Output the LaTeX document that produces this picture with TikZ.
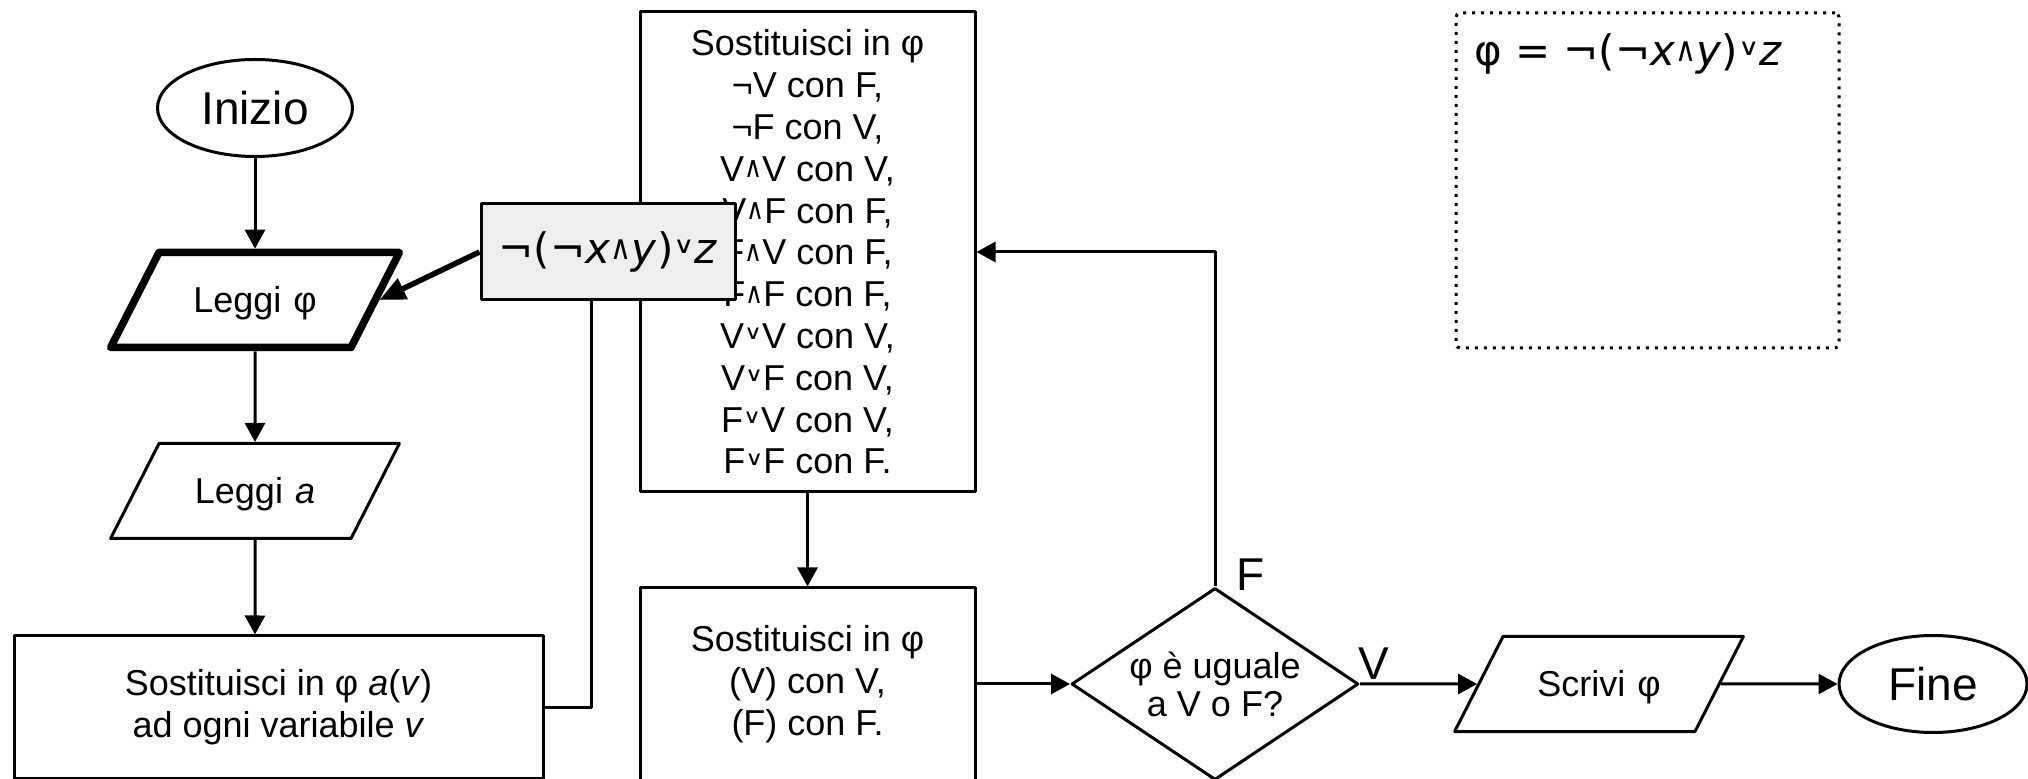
\documentclass[tikz,border=0pt]{standalone}
\usepackage{graphicx}
\usepackage{fontspec}
\setmainfont{Liberation Sans}
\newfontfamily\symf{DejaVu Sans}
\usetikzlibrary{shapes.geometric,arrows.meta}
\definecolor{boxgrey}{HTML}{EEEEEE}
\newcommand{\andsym}{\raisebox{.1em}{\resizebox{.5em}{.47em}{\symf ∧}}}
\newcommand{\orsym}{\raisebox{.24em}{\resizebox{.5em}{.32em}{\symf ∨}}}
\tikzset{
  txt/.style={font=\fontsize{18pt}{20.9pt}\selectfont, align=center},
  bigtxt/.style={font=\fontsize{23pt}{27pt}\selectfont},
  formtxt/.style={font=\symf\fontsize{21pt}{25pt}\selectfont},
  term/.style={draw, ellipse, bigtxt, inner sep=0pt, minimum height=48.5pt},
  io/.style={draw, trapezium, trapezium left angle=63, trapezium right angle=117,
    inner sep=0pt, txt, text width=96pt, text height=30.25pt, text depth=17.25pt},
  proc/.style={draw, rectangle, inner sep=0pt, txt},
  arr/.style={-{Triangle[length=9.5pt,width=10pt]}},
}
\begin{document}
\begin{tikzpicture}[x=0.5pt, y=-0.5pt, line width=1.5pt, line join=round]
            \useasboundingbox (0,0) rectangle (2028,779);
            \clip (0,0) rectangle (2028,779);
            % left column
            \node[term, minimum width=97.5pt] (start) at (255,108) {Inizio};
            \node[io, line width=3.75pt] (readphi) at (255,300) {Leggi φ};
            \node[io] (reada) at (255,491) {Leggi \textit{a}};
            \node[proc, minimum width=264.5pt, minimum height=71pt] (subst) at (278.5,707)
                {Sostituisci in φ \textit{a}(\textit{v})\\ ad ogni variabile \textit{v}};
            % rules
            \node[proc, minimum width=167.5pt, minimum height=240pt] (rules) at (807.5,252)
                {Sostituisci in φ\\ ¬V con F,\\ ¬F con V,\\ V\andsym V con V,\\ V\andsym F con F,\\
                 F\andsym V con F,\\ F\andsym F con F,\\ V\orsym V con V,\\ V\orsym F con V,\\
                 F\orsym V con V,\\ F\orsym F con F.};
            \node[proc, fill=boxgrey, formtxt, minimum width=127pt, minimum height=48pt] (expr) at (608,252)
                {¬(¬\textit{x}\andsym\textit{y})\orsym\textit{z}};
            \node[proc, minimum width=167.5pt, minimum height=96pt] (reduce) at (807.5,684)
                {Sostituisci in φ\\ (V) con V,\\ (F) con F.};
            \node[draw, diamond, aspect=1.5, inner sep=0pt, minimum width=143.5pt, minimum height=96pt,
                txt, font=\fontsize{18pt}{19pt}\selectfont] (test) at (1215,684) {φ è uguale\\ a V o F?};
            \node[io] (write) at (1599,684) {Scrivi φ};
            \node[term, minimum width=94pt] (stop) at (1933,684) {Fine};
            % formula box
            \node[draw, dash pattern=on 1.5pt off 3pt, rounded corners=2pt,
                minimum width=191.5pt, minimum height=167.5pt] (frame) at (1647.5,180.5) {};
            \node[formtxt, anchor=base west, inner sep=0pt] (formula) at ([xshift=9pt,yshift=-27pt]frame.north west)
                {φ = ¬(¬\textit{x}\andsym\textit{y})\orsym\textit{z}};
            % connectors
            \draw[arr] (start) -- (readphi);
            \draw[arr] (readphi) -- (reada);
            \draw[arr] (reada) -- (reada |- subst.north);
            \draw[line width=2.75pt, -{Triangle[length=13pt,width=11pt]}] (expr.west) -- (readphi.east);
            \draw ([xshift=-8.5pt]expr.south) |- (subst.east);
            \draw[arr] (rules) -- (reduce);
            \draw[arr] (reduce) -- (test);
            \draw[arr] (test.north) |- (rules.east);
            \draw[arr] (test) -- (write);
            \draw[arr] (write) -- (stop);
            \node[bigtxt, anchor=base west, inner sep=0pt] (flab) at ([xshift=10pt,yshift=-2pt]test.north) {F};
            \node[bigtxt, anchor=base west, inner sep=0pt] (vlab) at ([xshift=-1.5pt,yshift=2pt]test.east) {V};
\end{tikzpicture}
\end{document}
